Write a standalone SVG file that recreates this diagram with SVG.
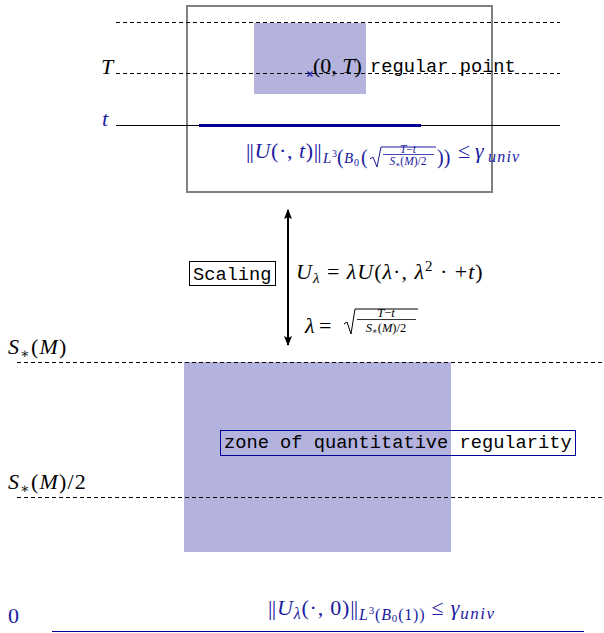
<svg xmlns="http://www.w3.org/2000/svg" width="604" height="633" viewBox="0 0 604 633">
<style>
.m{font-family:"Liberation Serif","DejaVu Serif",serif;font-size:22px;fill:#000}
.i{font-style:italic}
.b{fill:#1a1aa0}
.tt{font-family:"Liberation Mono","DejaVu Sans Mono",monospace;font-size:18.7px;fill:#000}
.dash{stroke:#000;stroke-width:1;stroke-dasharray:4 3;fill:none}
.zone{fill:#b3b3dd}
</style>
<defs>
<marker id="ah" viewBox="0 0 10 10" refX="9" refY="5" markerWidth="5" markerHeight="5" orient="auto-start-reverse">
<path d="M0,1 L10,5 L0,9 L2,5 z" fill="#000"/>
</marker>
</defs>
<rect width="604" height="633" fill="#fff"/>

<g id="top-panel">
<rect x="187" y="6" width="305" height="186" fill="none" stroke="#808080" stroke-width="2"/>
<rect class="zone" x="254" y="23" width="112" height="71"/>
<line class="dash" x1="116" y1="22.5" x2="560" y2="22.5"/>
<line class="dash" x1="116" y1="73.5" x2="560" y2="73.5"/>
<line x1="116" y1="125.5" x2="560" y2="125.5" stroke="#000" stroke-width="1"/>
<line x1="199" y1="125.5" x2="421" y2="125.5" stroke="#000099" stroke-width="3"/>
<text class="m i" x="101" y="74">T</text>
<text class="m i b" x="102" y="126">t</text>
<path d="M307.5,71.5 L312.5,76.5 M312.5,71.5 L307.5,76.5" stroke="#1a1aa0" stroke-width="1.2" fill="none"/>
<text class="m" x="313" y="73">(0, <tspan class="i">T</tspan>)</text>
<text class="tt" x="370" y="72">regular point</text>
<g id="top-formula">
<text class="m b" x="246" y="158" style="letter-spacing:0.6px">|<tspan dx="-1.5">|</tspan><tspan class="i">U</tspan>(·, <tspan class="i">t</tspan>)|<tspan dx="-1.5">|</tspan></text>
<text class="m b i" x="323" y="163" style="font-size:15px">L</text>
<text class="m b" x="332" y="157" style="font-size:10px">3</text>
<text class="m b" x="337" y="164" style="font-size:20px">(</text>
<text class="m b i" x="344" y="163" style="font-size:15px">B</text>
<text class="m b" x="354" y="166" style="font-size:10px">0</text>
<text class="m b" x="361" y="164" style="font-size:20px">(</text>
<path d="M370,159 L373,157 L377,167 L381,147 L436,147" fill="none" stroke="#1a1aa0" stroke-width="1"/>
<text class="m b" x="408" y="152.5" style="font-size:11.5px" text-anchor="middle"><tspan class="i">T</tspan>−<tspan class="i">t</tspan></text>
<line x1="383" y1="154.5" x2="434" y2="154.5" stroke="#1a1aa0" stroke-width="0.8"/>
<text class="m b" x="408" y="164.5" style="font-size:11.5px" text-anchor="middle"><tspan class="i">S</tspan><tspan style="font-size:7.5px" dy="2">∗</tspan><tspan dy="-2">(</tspan><tspan class="i">M</tspan>)/2</text>
<text class="m b" x="437" y="164" style="font-size:20px">))</text>
<text class="m b" x="458" y="158">≤</text>
<text class="m b i" x="475" y="158">γ</text>
<text class="m b i" x="488" y="162" style="font-size:16px;letter-spacing:1.2px">univ</text>
</g>
</g>

<g id="connectors">
<line x1="288" y1="210" x2="288" y2="345" stroke="#000" stroke-width="2" marker-start="url(#ah)" marker-end="url(#ah)"/>
</g>

<g id="scaling">
<rect x="189.5" y="261.5" width="86" height="24" fill="#fff" stroke="#000" stroke-width="1"/>
<text class="tt" x="193" y="280">Scaling</text>
<text class="m" x="296" y="279" style="letter-spacing:1px"><tspan class="i">U</tspan><tspan class="i" style="font-size:15px" dy="4">λ</tspan><tspan dy="-4"> = </tspan><tspan class="i">λU</tspan>(<tspan class="i">λ</tspan>·, <tspan class="i">λ</tspan><tspan style="font-size:15px" dy="-8">2</tspan><tspan dy="8"> · +</tspan><tspan class="i">t</tspan>)</text>
<text class="m i" x="305" y="333">λ</text>
<text class="m" x="319" y="333">=</text>
<path d="M344,324 L347,322 L351,334 L355,309 L418,309" fill="none" stroke="#000" stroke-width="1"/>
<text class="m" x="386" y="316.5" style="font-size:12.5px" text-anchor="middle"><tspan class="i">T</tspan>−<tspan class="i">t</tspan></text>
<line x1="357" y1="319.5" x2="416" y2="319.5" stroke="#000" stroke-width="0.8"/>
<text class="m" x="386" y="332" style="font-size:12.5px" text-anchor="middle"><tspan class="i">S</tspan><tspan style="font-size:8.5px" dy="2">∗</tspan><tspan dy="-2">(</tspan><tspan class="i">M</tspan>)/2</text>
</g>

<g id="bottom-panel">
<rect class="zone" x="184" y="362" width="267" height="190"/>
<line class="dash" x1="17" y1="362.5" x2="604" y2="362.5"/>
<line class="dash" x1="17" y1="497.5" x2="604" y2="497.5"/>
<text class="m" x="8" y="354" style="letter-spacing:1.2px"><tspan class="i">S</tspan><tspan style="font-size:14px" dy="4">∗</tspan><tspan dy="-4">(</tspan><tspan class="i">M</tspan>)</text>
<text class="m" x="8" y="489" style="letter-spacing:1.2px"><tspan class="i">S</tspan><tspan style="font-size:14px" dy="4">∗</tspan><tspan dy="-4">(</tspan><tspan class="i">M</tspan>)/2</text>
</g>

<g id="zone-label">
<rect x="220.5" y="430.5" width="355" height="25" fill="none" stroke="#000099" stroke-width="1"/>
<text class="tt b" x="224" y="448">zone of quantitative regularity</text>
</g>

<g id="base">
<line x1="52" y1="631.5" x2="584" y2="631.5" stroke="#000099" stroke-width="1"/>
<text class="m b" x="8" y="623">0</text>
<text class="m b" x="268" y="615" style="letter-spacing:0.8px">|<tspan dx="-1.5">|</tspan><tspan class="i">U</tspan><tspan class="i" style="font-size:16px" dy="4">λ</tspan><tspan dy="-4">(·, 0)|</tspan><tspan dx="-1.5">|</tspan><tspan class="i" style="font-size:16px" dy="5">L</tspan><tspan style="font-size:11px" dy="-6">3</tspan><tspan style="font-size:16px" dy="6">(</tspan><tspan class="i" style="font-size:16px">B</tspan><tspan style="font-size:11px" dy="2">0</tspan><tspan style="font-size:16px" dy="-2">(1))</tspan><tspan dy="-5"> ≤ </tspan><tspan class="i">γ</tspan><tspan class="i" style="font-size:17px;letter-spacing:1.5px" dy="4">univ</tspan></text>
</g>
</svg>
